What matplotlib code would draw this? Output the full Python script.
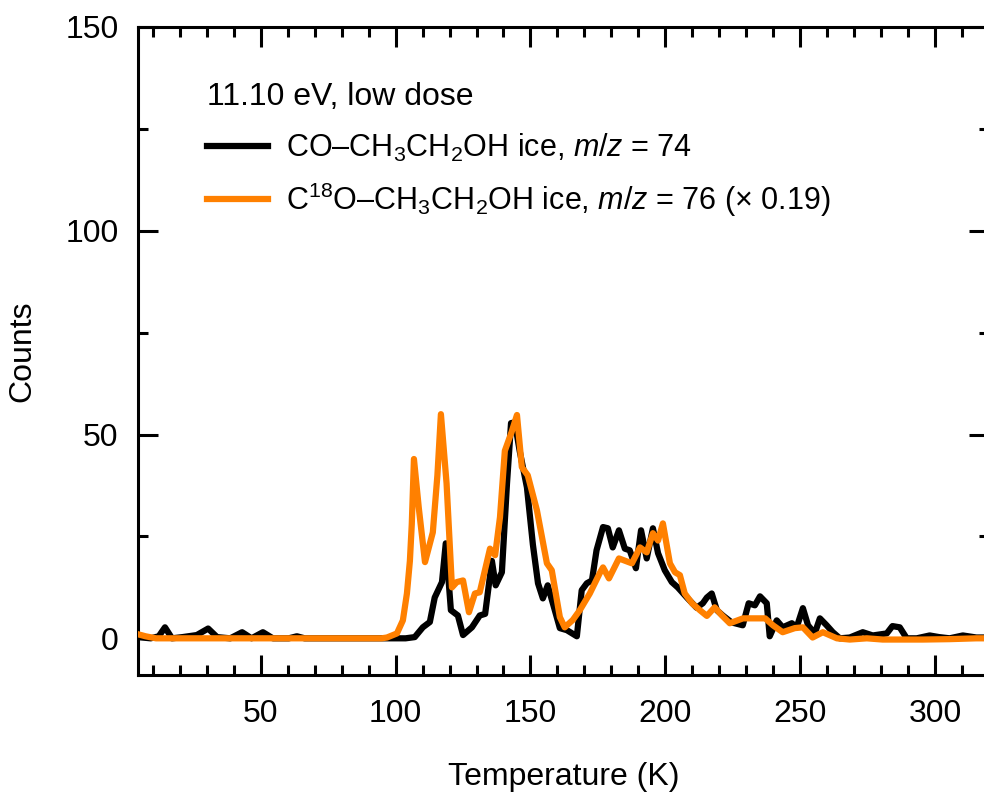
import matplotlib
matplotlib.use("Agg")
import matplotlib.pyplot as plt
from matplotlib.ticker import MultipleLocator

plt.rcParams['font.family'] = ['Liberation Sans', 'DejaVu Sans']
plt.rcParams['mathtext.fontset'] = 'custom'
plt.rcParams['mathtext.rm'] = 'Liberation Sans'
plt.rcParams['mathtext.it'] = 'Liberation Sans:italic'
plt.rcParams['mathtext.bf'] = 'Liberation Sans:bold'

# CO-CH3CH2OH ice, m/z = 74
t_black = [4.5, 9.2, 12.2, 14.5, 17.1, 21.0, 26.3, 30.5, 33.8, 38.7, 43.1, 46.6,
           50.8, 54.5, 60.4, 63.4, 66.3, 75.2, 85.0, 94.8, 99.75, 103.7, 107.1,
           110.1, 112.7, 114.5, 117.2, 118.6, 120.5, 123.1, 125.0, 128.3, 131.2,
           133.2, 135.7, 137.1, 139.4, 141.3, 142.8, 144.2, 146.0, 148.7, 150.9,
           152.8, 154.6, 156.4, 158.3, 160.9, 163.5, 167.2, 169.0, 170.9, 172.8,
           174.5, 176.9, 178.7, 180.5, 182.8, 185.0, 186.8, 189.1, 191.0, 193.1,
           195.4, 197.3, 199.8, 202.4, 204.6, 208.0, 211.6, 213.9, 215.4, 217.2,
           219.1, 221.3, 224.6, 228.7, 230.9, 233.2, 235.1, 237.6, 238.7, 241.3,
           243.5, 246.9, 248.7, 251.0, 252.9, 255.4, 257.3, 259.8, 262.1, 264.7,
           268.4, 273.2, 276.9, 282.1, 284.2, 286.9, 289.5, 293.2, 298.0, 301.5,
           305.4, 310.3, 315.3, 320.0]
c_black = [0.3, 0.0, 0.5, 2.7, 0.0, 0.3, 0.8, 2.4, 0.3, 0.0, 1.5, 0.0,
           1.5, 0.0, 0.0, 0.5, 0.0, 0.0, 0.0, 0.0, 0.0, 0.0, 0.3,
           2.7, 4.0, 10.0, 13.8, 23.3, 6.9, 5.6, 0.8, 2.7, 5.6,
           6.0, 19.0, 13.0, 16.2, 38.0, 52.8, 53.0, 46.0, 37.0, 23.0,
           13.5, 9.8, 13.0, 8.6, 2.5, 2.0, 0.5, 11.8, 13.5, 14.2,
           21.6, 27.3, 27.0, 22.3, 26.5, 22.0, 21.6, 17.2, 26.5, 19.6,
           27.0, 20.9, 16.7, 13.8, 12.5, 10.0, 7.5, 8.6, 10.0, 11.0,
           6.9, 5.6, 3.9, 3.2, 8.6, 8.1, 10.3, 8.6, 0.5, 4.4,
           2.7, 3.7, 2.7, 7.4, 3.2, 1.2, 4.9, 3.2, 1.5, 0.0,
           0.2, 1.5, 0.7, 1.2, 3.0, 2.7, 0.0, 0.0, 0.7, 0.3,
           0.0, 0.7, 0.2, 0.2]

# C18O-CH3CH2OH ice, m/z = 76 (x 0.19)
t_orange = [4.5, 7.3, 11.2, 21.0, 40.7, 60.4, 80.1, 94.8, 96.8, 100.5, 102.7,
            104.2, 105.3, 106.0, 106.8, 108.6, 110.9, 113.8, 115.5, 116.8, 118.9,
            120.9, 122.7, 125.0, 127.2, 129.4, 131.2, 135.0, 136.9, 138.7, 140.5,
            143.0, 145.0, 146.8, 149.0, 152.4, 156.1, 157.9, 160.9, 162.7, 165.7,
            168.3, 172.0, 175.7, 176.9, 179.1, 182.8, 187.6, 190.6, 193.1, 195.4,
            197.3, 199.1, 201.7, 203.6, 205.4, 207.2, 209.9, 212.8, 215.4, 218.3,
            221.0, 223.9, 228.8, 237.0, 239.9, 243.5, 248.0, 251.0, 254.6, 258.4,
            263.6, 268.4, 274.7, 280.6, 288.0, 295.5, 305.4, 315.3, 320.0]
c_orange = [1.0, 0.5, 0.0, 0.0, 0.0, 0.0, 0.0, 0.0, 0.2, 1.2, 4.4,
            11.0, 19.0, 28.0, 44.0, 32.0, 18.7, 26.0, 40.0, 55.0, 38.0,
            12.5, 13.8, 14.2, 6.4, 11.0, 11.3, 22.0, 20.4, 29.7, 46.0,
            50.6, 54.8, 42.0, 40.0, 31.4, 18.4, 16.7, 5.2, 2.7, 4.5,
            6.9, 11.0, 16.0, 17.4, 14.7, 19.6, 18.4, 22.3, 21.1, 25.8,
            24.0, 28.2, 18.4, 16.2, 15.5, 11.0, 8.6, 6.9, 5.5, 7.6,
            5.6, 3.7, 4.9, 4.9, 3.2, 1.5, 2.5, 2.7, 0.2, 1.5,
            0.0, -0.3, 0.0, -0.3, -0.3, -0.3, -0.2, 0.0, 0.0]

title_text = "11.10 eV, low dose"
label_black = r"CO–CH$_3$CH$_2$OH ice, $m/z$ = 74"
label_orange = r"C$^{18}$O–CH$_3$CH$_2$OH ice, $m/z$ = 76 (× 0.19)"
orange = "#FF8000"

fig = plt.figure(figsize=(9.84, 7.94), dpi=100)
ax = fig.add_axes([138/984, 1-675/794, (989-138)/984, (675-27)/794])

ax.plot(t_black, c_black, color="black", lw=4.5, label=label_black,
        solid_joinstyle='round', zorder=3)
ax.plot(t_orange, c_orange, color=orange, lw=4.5, label=label_orange,
        solid_joinstyle='round', zorder=4)

ax.set_xlim(4.5, 320)
ax.set_ylim(-9, 150)
ax.xaxis.set_major_locator(MultipleLocator(50))
ax.xaxis.set_minor_locator(MultipleLocator(10))
ax.yaxis.set_major_locator(MultipleLocator(50))
ax.yaxis.set_minor_locator(MultipleLocator(25))
ax.set_xticks([50, 100, 150, 200, 250, 300])

ax.tick_params(which='both', direction='in', top=True, right=True, width=2.2,
               labelsize=23)
ax.tick_params(axis='x', pad=17)
ax.tick_params(axis='y', pad=14)
ax.tick_params(which='major', length=14.5)
ax.tick_params(which='minor', length=7.5)
for s in ax.spines.values():
    s.set_linewidth(2.2)

ax.set_xlabel("Temperature (K)", fontsize=23, labelpad=24)
ax.set_ylabel("Counts", fontsize=23, labelpad=20)

ax.text(0.081, 0.892, title_text, transform=ax.transAxes, fontsize=23,
        ha='left', va='center')

leg = ax.legend(loc='upper left', bbox_to_anchor=(0.081, 0.838),
                frameon=False, fontsize=22, borderpad=0,
                handlelength=2.0, handletextpad=0.6, labelspacing=0.55,
                borderaxespad=0)
for h in leg.get_lines():
    h.set_linewidth(4.5)

fig.savefig("out.png", dpi=100)
